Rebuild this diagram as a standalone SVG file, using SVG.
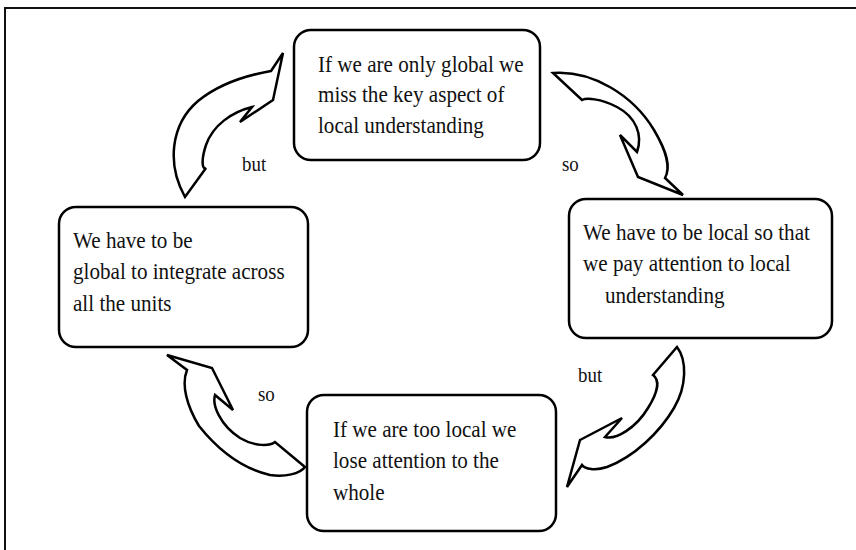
<svg xmlns="http://www.w3.org/2000/svg" width="856" height="550" viewBox="0 0 856 550">
<style>
.box{fill:#fff;stroke:#000;stroke-width:2.5}
.arr{fill:#fff;stroke:#000;stroke-width:2.5;stroke-linejoin:miter}
.t{font-size:24px;fill:#111}
.lbl{font-size:21px;fill:#111}
</style>
<rect width="856" height="550" fill="#fff"/>
<rect x="5" y="8" width="900" height="600" fill="none" stroke="#111" stroke-width="2"/>
<g font-family="'Liberation Serif', 'Times New Roman', Times, serif">
<g id="connectors">
<path class="arr" d="M185,197 C167,165 170,125 198,101 C220,83 248,75 271,71 L283,53 L273,100 L240,122 L252,107 C232,112 213,125 206,145 C201,160 202,170 206,168 Z"/>
<path class="arr" d="M553,73 C592,70 633,95 654,130 C667,152 671,167 665,178 L683,195 L638,177 L620,135 L637,152 C643,135 636,117 617,107 C600,98 586,98 582,100 Z"/>
<path class="arr" d="M677,347 C687,360 687,386 674,408 C660,432 634,457 607,467 C595,471 585,469 582,465 L567,487 L580,440 L622,418 L605,437 C616,440 636,428 648,408 C658,392 660,380 653,375 Z"/>
<path class="arr" d="M305,467 C300,474 285,477 270,475 C244,469 219,451 199,426 C187,406 181,385 187,370 L167,355 L212,368 L233,410 L215,395 C212,405 220,425 240,438 C255,447 270,446 275,442 Z"/>
<g transform="translate(242,0) scale(0.9,1)"><text class="lbl" x="0" y="171">but</text></g>
<g transform="translate(562,0) scale(0.9,1)"><text class="lbl" x="0" y="171">so</text></g>
<g transform="translate(578,0) scale(0.9,1)"><text class="lbl" x="0" y="382">but</text></g>
<g transform="translate(258,0) scale(0.9,1)"><text class="lbl" x="0" y="401">so</text></g>
</g>
<g id="node-top">
<rect class="box" x="294" y="30" width="246" height="130" rx="17"/>
<g transform="translate(318,0) scale(0.88,1)">
<text class="t" x="0" y="72">If we are only global we</text>
<text class="t" x="0" y="102.5">miss the key aspect of</text>
<text class="t" x="0" y="133">local understanding</text>
</g>
</g>
<g id="node-right">
<rect class="box" x="569" y="199" width="263" height="139" rx="17"/>
<g transform="translate(583,0) scale(0.88,1)">
<text class="t" x="0" y="240">We have to be local so that</text>
<text class="t" x="0" y="271.5">we pay attention to local</text>
<text class="t" x="25" y="303">understanding</text>
</g>
</g>
<g id="node-left">
<rect class="box" x="59" y="207" width="249" height="140" rx="17"/>
<g transform="translate(73,0) scale(0.88,1)">
<text class="t" x="0" y="248">We have to be</text>
<text class="t" x="0" y="279.5">global to integrate across</text>
<text class="t" x="0" y="311">all the units</text>
</g>
</g>
<g id="node-bottom">
<rect class="box" x="307" y="395" width="249" height="136" rx="17"/>
<g transform="translate(333,0) scale(0.88,1)">
<text class="t" x="0" y="437">If we are too local we</text>
<text class="t" x="0" y="468.5">lose attention to the</text>
<text class="t" x="0" y="500">whole</text>
</g>
</g>
</g>
</svg>
